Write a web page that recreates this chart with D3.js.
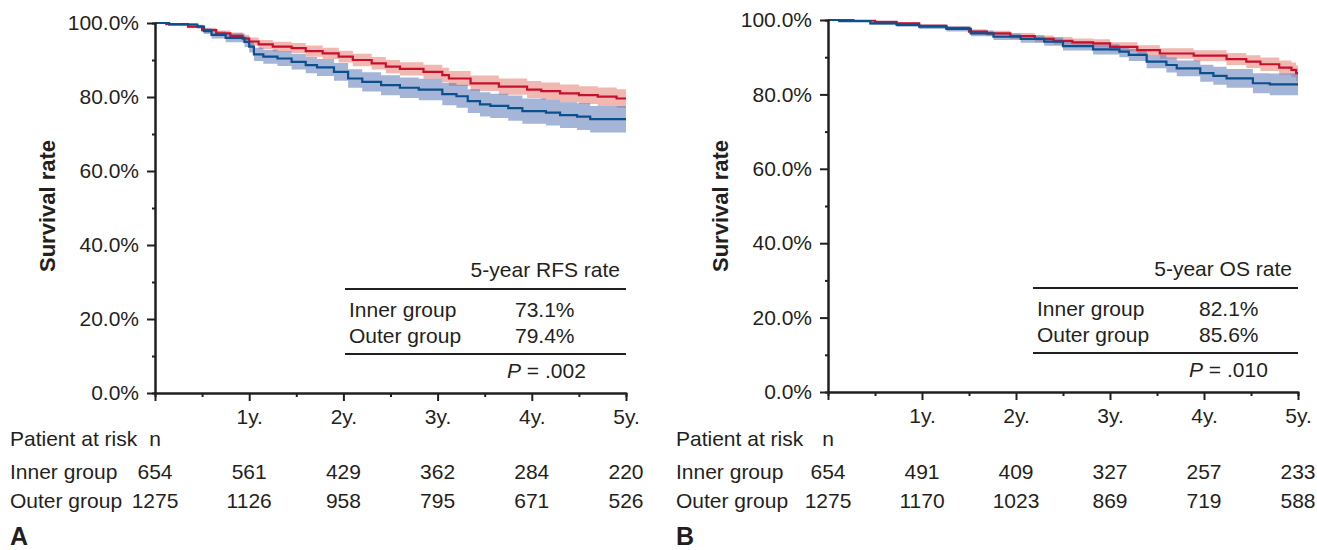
<!DOCTYPE html>
<html>
<head>
<meta charset="utf-8">
<script src="https://cdn.jsdelivr.net/npm/d3@7"></script>
<style>
body { margin: 0; background: #fff; }
svg text { font-family: "Liberation Sans", Arial, Helvetica, sans-serif; fill: #231f20; }
</style>
</head>
<body>
<div id="app"></div>
<script>
const container = document.querySelector('#app');

// ---- data (time in years, survival in %) ----
// panel A: recurrence free survival
const rfsOuterT  = [0, 0.12, 0.35, 0.5, 0.65, 0.8, 0.93, 1.0, 1.1, 1.25, 1.45, 1.6, 1.78, 1.95, 2.1, 2.3, 2.45, 2.6, 2.85, 3.05, 3.12, 3.35, 3.65, 3.95, 4.1, 4.3, 4.5, 4.7, 4.9];
const rfsOuterS  = [100, 99.7, 99.0, 98.1, 97.2, 96.5, 95.8, 95.0, 94.2, 93.6, 93.2, 92.4, 91.8, 90.9, 90.0, 89.1, 88.2, 87.6, 86.8, 85.9, 85.0, 83.7, 82.8, 82.0, 81.6, 81.0, 80.5, 80.1, 79.6];
const rfsOuterCI = [0, 0.2, 0.4, 0.6, 0.8, 0.9, 1.0, 1.1, 1.2, 1.3, 1.4, 1.5, 1.5, 1.6, 1.7, 1.7, 1.8, 1.8, 1.9, 2.0, 2.0, 2.1, 2.2, 2.3, 2.3, 2.4, 2.4, 2.5, 2.5];

const rfsInnerT  = [0, 0.15, 0.45, 0.52, 0.6, 0.75, 0.95, 1.0, 1.05, 1.15, 1.3, 1.45, 1.6, 1.72, 1.9, 2.05, 2.2, 2.4, 2.6, 2.8, 3.05, 3.2, 3.32, 3.45, 3.56, 3.75, 3.9, 4.15, 4.3, 4.48, 4.62];
const rfsInnerS  = [100, 99.6, 99.0, 97.8, 96.8, 96.0, 94.9, 93.6, 91.5, 90.9, 90.4, 89.5, 88.6, 88.0, 86.8, 85.0, 84.1, 83.2, 82.5, 82.0, 80.8, 80.2, 78.9, 78.0, 77.6, 77.0, 76.2, 75.8, 75.1, 74.7, 74.0];
const rfsInnerCI = [0, 0.3, 0.5, 0.8, 1.0, 1.2, 1.4, 1.6, 1.8, 1.9, 2.0, 2.1, 2.2, 2.3, 2.4, 2.5, 2.6, 2.7, 2.8, 2.9, 3.0, 3.1, 3.2, 3.3, 3.3, 3.4, 3.4, 3.5, 3.5, 3.6, 3.6];

// panel B: overall survival
const osOuterT  = [0, 0.27, 0.5, 0.73, 0.97, 1.26, 1.5, 1.69, 1.94, 2.2, 2.4, 2.6, 2.82, 3.0, 3.29, 3.53, 3.89, 4.24, 4.45, 4.6, 4.8, 4.93, 4.98];
const osOuterS  = [100, 99.8, 99.5, 99.1, 98.4, 97.8, 96.9, 96.4, 95.7, 94.9, 94.4, 94.0, 93.7, 92.8, 91.9, 91.0, 90.4, 89.5, 88.8, 88.1, 87.2, 86.6, 85.7];
const osOuterCI = [0, 0.1, 0.2, 0.3, 0.4, 0.5, 0.6, 0.7, 0.8, 0.9, 1.0, 1.0, 1.1, 1.2, 1.3, 1.4, 1.5, 1.6, 1.7, 1.8, 1.9, 2.0, 2.1];

const osInnerT  = [0, 0.12, 0.45, 0.73, 0.97, 1.26, 1.52, 1.76, 2.05, 2.3, 2.5, 2.82, 3.1, 3.2, 3.39, 3.6, 3.71, 3.96, 4.1, 4.24, 4.52, 4.7];
const osInnerS  = [100, 99.7, 99.1, 98.7, 98.2, 97.6, 96.4, 95.5, 94.9, 94.2, 93.0, 92.1, 91.5, 90.6, 88.8, 87.9, 87.0, 85.7, 85.0, 84.3, 83.0, 82.7];
const osInnerCI = [0, 0.2, 0.4, 0.5, 0.6, 0.7, 0.8, 0.9, 1.0, 1.1, 1.2, 1.4, 1.5, 1.6, 1.8, 2.0, 2.1, 2.3, 2.4, 2.5, 2.7, 2.9];

// tick labels and risk tables
const yTicks = [0, 20, 40, 60, 80, 100];
const yMinor = [10, 30, 50, 70, 90];
const xTicks = [0, 1, 2, 3, 4, 5];
const xMinor = [0.5, 1.5, 2.5, 3.5, 4.5];
const xTickLabels = ["", "1y.", "2y.", "3y.", "4y.", "5y."];
const riskTimes = [0, 1, 2, 3, 4, 5];
const riskInnerA = [654, 561, 429, 362, 284, 220];
const riskOuterA = [1275, 1126, 958, 795, 671, 526];
const riskInnerB = [654, 491, 409, 327, 257, 233];
const riskOuterB = [1275, 1170, 1023, 869, 719, 588];

const width = 1317;
const height = 550;
const ink = "#231f20";
const redLine = "#c8102e", redBand = "#e8877d";
const blueLine = "#0b4f8c", blueBand = "#5a78b8";

const svg = d3.create("svg")
    .attr("width", width)
    .attr("height", height);

function series(T, S, CI) {
  const pts = T.map((t, i) => ({ t, s: S[i], lo: S[i] - CI[i], hi: S[i] + CI[i] }));
  const last = pts[pts.length - 1];
  pts.push({ t: 5, s: last.s, lo: last.lo, hi: last.hi });
  return pts;
}

function drawPanel(cfg) {
  const g = svg.append("g").attr("transform", `translate(${cfg.left},${cfg.top})`);
  const x = d3.scaleLinear().domain([0, 5]).range([0, cfg.w]);
  const y = d3.scaleLinear().domain([0, 100]).range([cfg.h, 0]);

  const area = d3.area().curve(d3.curveStepAfter)
      .x(d => x(d.t)).y0(d => y(d.lo)).y1(d => y(d.hi));
  const line = d3.line().curve(d3.curveStepAfter)
      .x(d => x(d.t)).y(d => y(d.s));

  // confidence bands
  g.append("path").datum(cfg.outer).attr("d", area)
    .attr("fill", redBand).attr("fill-opacity", 0.6);
  g.append("path").datum(cfg.inner).attr("d", area)
    .attr("fill", blueBand).attr("fill-opacity", 0.55);

  // survival curves
  g.append("path").datum(cfg.outer).attr("d", line)
    .attr("fill", "none").attr("stroke", redLine).attr("stroke-width", 2.2);
  g.append("path").datum(cfg.inner).attr("d", line)
    .attr("fill", "none").attr("stroke", blueLine).attr("stroke-width", 2.2);

  // minor ticks
  g.append("g")
    .call(d3.axisLeft(y).tickValues(yMinor).tickSize(3).tickFormat(""));
  g.append("g").attr("transform", `translate(0,${cfg.h})`)
    .call(d3.axisBottom(x).tickValues(xMinor).tickSize(4).tickFormat(""));

  // main axes
  g.append("g")
    .call(d3.axisLeft(y).tickValues(yTicks).tickSize(8).tickPadding(8).tickSizeOuter(0)
      .tickFormat(d => d.toFixed(1) + "%"));
  g.append("g").attr("transform", `translate(0,${cfg.h})`)
    .call(d3.axisBottom(x).tickValues(xTicks).tickSize(8).tickPadding(8).tickSizeOuter(0)
      .tickFormat((d, i) => xTickLabels[i]));

  g.selectAll(".domain, .tick line").attr("stroke", ink).attr("stroke-width", 2);
  g.selectAll(".tick text").attr("font-size", 21).attr("fill", ink);

  // y title
  svg.append("text")
    .attr("transform", `translate(${cfg.titleX},206) rotate(-90)`)
    .attr("text-anchor", "middle")
    .attr("font-size", 22).attr("font-weight", "bold")
    .text("Survival rate");

  // summary table
  const tb = g.append("g").attr("font-size", 21);
  tb.append("text").attr("x", cfg.w - 6).attr("y", cfg.h - 116).attr("text-anchor", "end")
    .attr("font-size", 21).text(cfg.heading);
  [cfg.h - 104, cfg.h - 39].forEach(yy => {
    tb.append("line").attr("x1", cfg.tabX).attr("x2", cfg.w)
      .attr("y1", yy).attr("y2", yy).attr("stroke", ink).attr("stroke-width", 2);
  });
  tb.append("text").attr("x", cfg.tabX + 4).attr("y", cfg.h - 76).attr("font-size", 21).text("Inner group");
  tb.append("text").attr("x", cfg.tabX + 4).attr("y", cfg.h - 50).attr("font-size", 21).text("Outer group");
  tb.append("text").attr("x", cfg.valX).attr("y", cfg.h - 76).attr("font-size", 21).text(cfg.rates[0]);
  tb.append("text").attr("x", cfg.valX).attr("y", cfg.h - 50).attr("font-size", 21).text(cfg.rates[1]);
  const p = tb.append("text").attr("x", cfg.pX).attr("y", cfg.h - 15).attr("font-size", 21);
  p.append("tspan").attr("font-style", "italic").text("P");
  p.append("tspan").text(" = " + cfg.p);

  // patients at risk
  const rt = svg.append("g").attr("font-size", 21);
  rt.append("text").attr("x", cfg.textX).attr("y", 446).attr("font-size", 21).text("Patient at risk");
  rt.append("text").attr("x", cfg.left + x(0)).attr("y", 446).attr("text-anchor", "middle")
    .attr("font-size", 21).text("n");
  rt.append("text").attr("x", cfg.textX).attr("y", 479).attr("font-size", 21).text("Inner group");
  rt.append("text").attr("x", cfg.textX).attr("y", 508).attr("font-size", 21).text("Outer group");
  riskTimes.forEach((t, i) => {
    rt.append("text").attr("x", cfg.left + x(t)).attr("y", 479).attr("text-anchor", "middle")
      .attr("font-size", 21).text(cfg.riskInner[i]);
    rt.append("text").attr("x", cfg.left + x(t)).attr("y", 508).attr("text-anchor", "middle")
      .attr("font-size", 21).text(cfg.riskOuter[i]);
  });

  // panel letter
  svg.append("text").attr("x", cfg.textX).attr("y", 545)
    .attr("font-size", 25).attr("font-weight", "bold").text(cfg.letter);
}

drawPanel({
  left: 155, top: 23, w: 471, h: 370, titleX: 55, textX: 10,
  outer: series(rfsOuterT, rfsOuterS, rfsOuterCI),
  inner: series(rfsInnerT, rfsInnerS, rfsInnerCI),
  heading: "5-year RFS rate", rates: ["73.1%", "79.4%"], p: ".002",
  tabX: 190, valX: 360, pX: 352,
  riskInner: riskInnerA, riskOuter: riskOuterA, letter: "A"
});

drawPanel({
  left: 828, top: 20, w: 470, h: 372, titleX: 728, textX: 676,
  outer: series(osOuterT, osOuterS, osOuterCI),
  inner: series(osInnerT, osInnerS, osInnerCI),
  heading: "5-year OS rate", rates: ["82.1%", "85.6%"], p: ".010",
  tabX: 205, valX: 371, pX: 361,
  riskInner: riskInnerB, riskOuter: riskOuterB, letter: "B"
});

container.append(svg.node());
</script>
</body>
</html>
